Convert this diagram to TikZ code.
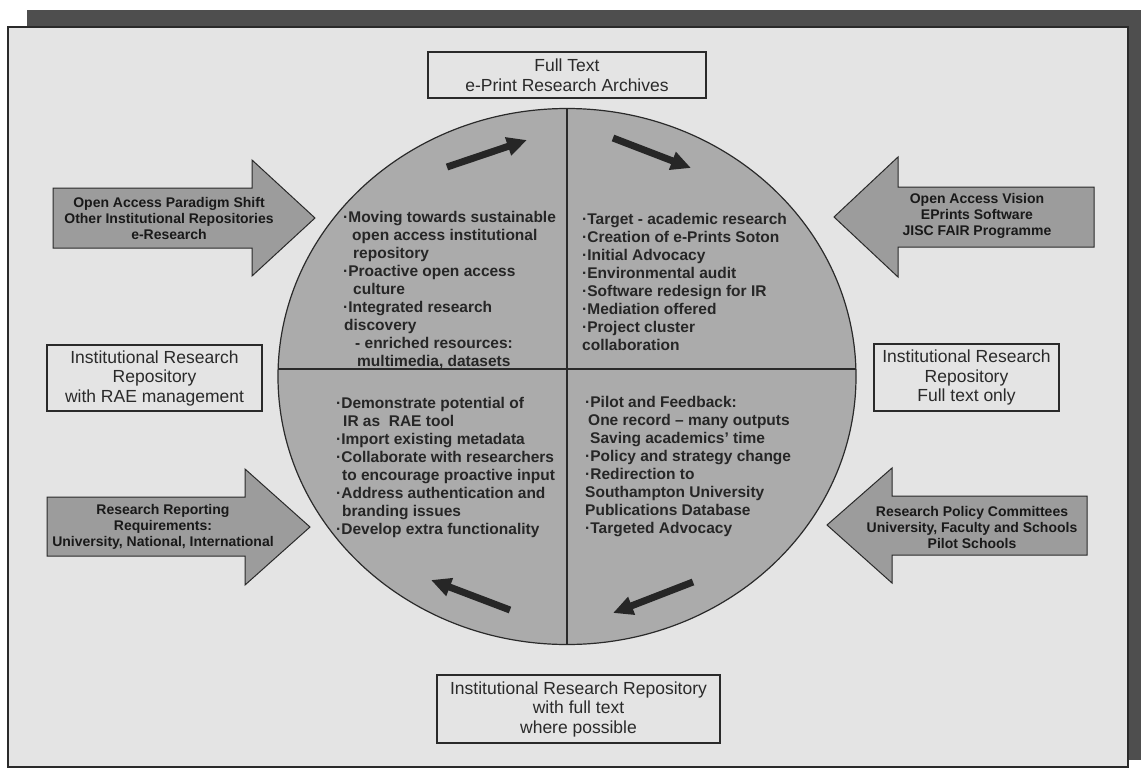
\documentclass[tikz,border=0pt]{standalone}
\usepackage{fontspec}
\setmainfont{Liberation Sans}
\usetikzlibrary{arrows.meta}
\definecolor{pagebg}{HTML}{E4E4E4}
\definecolor{shadowgray}{HTML}{4E4E4E}
\definecolor{discgray}{HTML}{ABABAB}
\definecolor{arrowgray}{HTML}{9C9C9C}
\definecolor{inkgray}{HTML}{2A2A2A}

\begin{document}
\begin{tikzpicture}[x=1pt,y=-1pt,
  framebox/.style={draw=inkgray, line width=1.4pt},
  labelbox/.style={draw=inkgray, line width=1.3pt, fill=pagebg, align=center, inner sep=0pt,
    text=inkgray, font=\fontsize{17.5}{19.5}\selectfont},
  fattext/.style={align=center, inner sep=0pt, text=black!90, font=\fontsize{14}{16}\selectfont\bfseries},
  listtext/.style={align=left, anchor=north west, inner sep=0pt, text=black!85,
    font=\fontsize{15.5}{18}\selectfont\bfseries},
  bigarrow/.style={draw=inkgray, line width=1pt, fill=arrowgray, line join=miter},
  turnarrow/.style={draw=black!85, line width=7pt, -{Triangle[length=20pt,width=18pt]}},
]
\useasboundingbox (0,0) rectangle (1141,769);
\fill[white] (0,0) rectangle (1141,769);

% framed panel with its drop shadow
\fill[shadowgray] (27,10) rectangle (1141,760);
\filldraw[fill=pagebg, framebox] (8,27) rectangle (1128,767);

% central disc split into four quadrants
\fill[discgray] (567,376.5) ellipse [x radius=289, y radius=268];
\begin{scope}
  \clip (567,376.5) ellipse [x radius=289, y radius=268];
  \draw[inkgray, line width=1.2pt] (567,100) -- (567,660);
  \draw[inkgray, line width=1.2pt] (270,369) -- (865,369);
\end{scope}
\draw[inkgray, line width=1.2pt] (567,376.5) ellipse [x radius=289, y radius=268];

% block arrows pointing at the disc
\draw[bigarrow] (53,188) -- (252,188) -- (252,160) -- (315,218) -- (252,276) -- (252,248) -- (53,248) -- cycle;
\draw[bigarrow] (47,497) -- (245,497) -- (245,469) -- (310,527) -- (245,585) -- (245,556) -- (47,556) -- cycle;
\draw[bigarrow] (834,217) -- (898,157) -- (898,187) -- (1094,187) -- (1094,247) -- (898,247) -- (898,277) -- cycle;
\draw[bigarrow] (827,525) -- (892,468) -- (892,496) -- (1087,496) -- (1087,555) -- (892,555) -- (892,583) -- cycle;

\node[fattext] (shift) at (169,218) {Open Access Paradigm Shift\\Other Institutional Repositories\\e-Research};
\node[fattext] (reporting) at (163,527) {Research Reporting\\Requirements:\\University, National, International};
\node[fattext] (vision) at (977,216) {Open Access Vision\\EPrints Software\\JISC FAIR Programme};
\node[fattext] (policy) at (972,527) {Research Policy Committees\\University, Faculty and Schools\\Pilot Schools};

% outcome boxes
\node[labelbox, minimum width=278pt, minimum height=46pt] (archives) at (567,75)
  {Full Text\\e-Print Research Archives};
\node[labelbox, minimum width=215pt, minimum height=66pt] (raerepo) at (154.5,378)
  {Institutional Research\\Repository\\with RAE management};
\node[labelbox, minimum width=185pt, minimum height=67pt] (textrepo) at (966.5,377.5)
  {Institutional Research\\Repository\\Full text only};
\node[labelbox, minimum width=283pt, minimum height=68pt] (fullrepo) at (578.5,709)
  {Institutional Research Repository\\with full text\\where possible};

% cycle arrows inside the disc
\coordinate (tlA) at (447,167); \coordinate (tlB) at (527,140);
\coordinate (trA) at (613,138); \coordinate (trB) at (691,168);
\coordinate (brA) at (693,582); \coordinate (brB) at (613,613);
\coordinate (blA) at (510,610); \coordinate (blB) at (431,580);
\draw[turnarrow] (tlA) -- (tlB);
\draw[turnarrow] (trA) -- (trB);
\draw[turnarrow] (brA) -- (brB);
\draw[turnarrow] (blA) -- (blB);

% quadrant contents
\node[listtext] (tlList) at (343,211) {%
·Moving towards sustainable\\
\hspace*{9pt}open access institutional\\
\hspace*{10pt}repository\\
·Proactive open access\\
\hspace*{10pt}culture\\
·Integrated research\\
\hspace*{1pt}discovery\\
\hspace*{12pt}- enriched resources:\\
\hspace*{14pt}multimedia, datasets};

\node[listtext] (trList) at (582,213) {%
·Target - academic research\\
·Creation of e-Prints Soton\\
·Initial Advocacy\\
·Environmental audit\\
·Software redesign for IR\\
·Mediation offered\\
·Project cluster\\
collaboration};

\node[listtext] (blList) at (336,397) {%
·Demonstrate potential of\\
\hspace*{7pt}IR as\ \ RAE tool\\
·Import existing metadata\\
·Collaborate with researchers\\
\hspace*{6pt}to encourage proactive input\\
·Address authentication and\\
\hspace*{6pt}branding issues\\
·Develop extra functionality};

\node[listtext] (brList) at (585,396) {%
·Pilot and Feedback:\\
\hspace*{3pt}One record – many outputs\\
\hspace*{5pt}Saving academics' time\\
·Policy and strategy change\\
·Redirection to\\
Southampton University\\
Publications Database\\
·Targeted Advocacy};
\end{tikzpicture}
\end{document}
